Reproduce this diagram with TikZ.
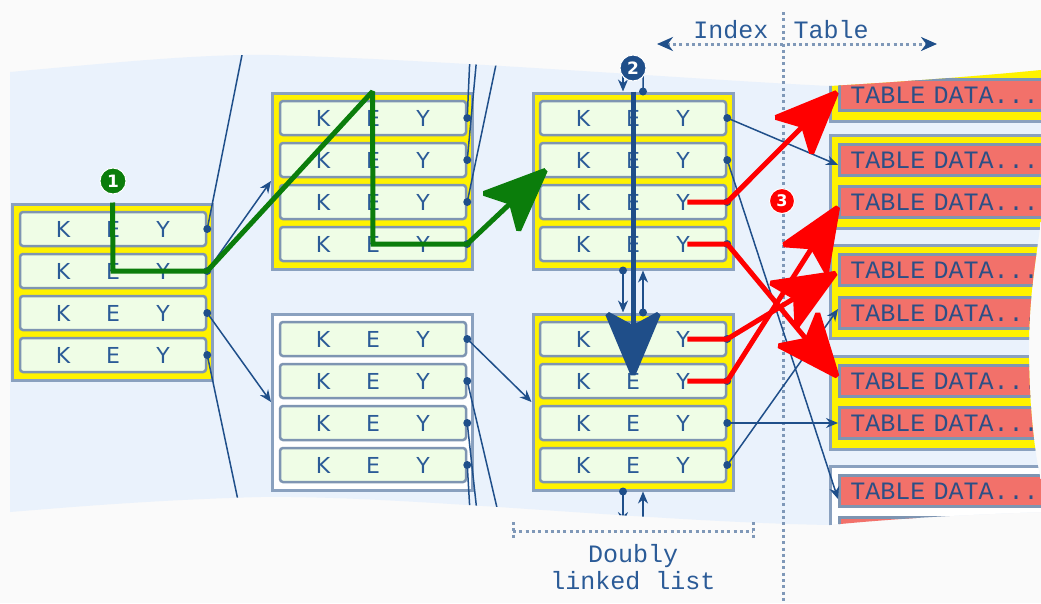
\documentclass[tikz,border=0pt]{standalone}
\usepackage{fontspec}
\usepackage{tikz}
\setmainfont{DejaVu Sans}
\newfontfamily\monofont{Liberation Mono}
\usetikzlibrary{arrows.meta}

\definecolor{paper}{HTML}{FAFAFA}
\definecolor{band}{HTML}{EAF2FC}
\definecolor{frame}{HTML}{8AA1BF}
\definecolor{keyline}{HTML}{7E95B2}
\definecolor{keybg}{HTML}{EFFDE6}
\definecolor{keyfg}{HTML}{2B5B97}
\definecolor{tblfg}{HTML}{2B4F86}
\definecolor{link}{HTML}{1F4F8A}
\definecolor{salmon}{HTML}{F2716A}
\definecolor{pathgreen}{HTML}{0B7D0B}
\definecolor{pathblue}{HTML}{1F4E89}
\definecolor{dotline}{HTML}{7F98B8}

\newcommand{\keytext}{\makebox[50pt]{K}\makebox[50pt]{E}\makebox[50pt]{Y}}
\newcommand{\bandpath}{(10,72) .. controls (120,62) and (200,54) .. (270,55)
  .. controls (450,60) and (700,80) .. (830,86)
  .. controls (900,82) and (980,76) .. (1041,70) -- (1041,220)
  .. controls (1036,260) and (1028,300) .. (1029,360)
  .. controls (1030,420) and (1036,460) .. (1041,480) -- (1041,512)
  .. controls (950,515) and (880,520) .. (830,525)
  .. controls (650,522) and (400,495) .. (260,497)
  .. controls (150,500) and (60,508) .. (10,512) -- cycle}

\begin{document}
\begin{tikzpicture}[x=1pt,y=-1pt]
        \tikzstyle{box}=[draw=frame,line width=3pt,fill=yellow,minimum width=200pt,minimum height=176pt,inner sep=0pt]
        \tikzstyle{leaf}=[box,fill=white]
        \tikzstyle{key}=[draw=keyline,line width=2.5pt,fill=keybg,rounded corners=3pt,minimum width=186pt,minimum height=34pt,inner sep=0pt,text=keyfg,font=\fontsize{22}{22}\selectfont]
        \tikzstyle{grp}=[draw=frame,line width=3pt,fill=yellow,minimum width=260pt,minimum height=93pt,anchor=north west,inner sep=0pt]
        \tikzstyle{row}=[draw=keyline,line width=2.5pt,fill=salmon,text width=248pt,minimum height=31pt,inner xsep=11pt,inner ysep=0pt,anchor=west,align=left,text=tblfg,font=\monofont\fontsize{25}{25}\selectfont]
        \tikzstyle{ptr}=[draw=link,line width=1.5pt,-{Stealth[length=12pt,width=10pt]}]
        \tikzstyle{wire}=[draw=link,line width=1.5pt]
        \tikzstyle{dotted line}=[draw=dotline,line width=3pt,dash pattern=on 3pt off 3.3pt]
        \tikzstyle{label}=[text=keyfg,font=\monofont\fontsize{25}{27}\selectfont]
        \tikzstyle{badge}=[circle,draw=white,line width=1pt,minimum size=26pt,inner sep=0pt,text=white,font=\bfseries\fontsize{17}{17}\selectfont]
        \tikzstyle{thick path}=[line width=5pt,miter limit=2]
        \tikzstyle{big head}=[-{Stealth[length=72pt,width=60pt,inset=16pt]}]

            \useasboundingbox (0,0) rectangle (1041,603);
            \fill[paper] (0,0) rectangle (1041,603);
            \fill[band] \bandpath;

            % index / table split
            \draw[dotted line] (783,12) -- (783,603);
            \node[label,anchor=east] (ix) at (772,30) {Index};
            \node[label,anchor=west] (tb) at (790,30) {Table};
            \coordinate (il) at (657,44);
            \coordinate (ir) at (937,44);
            \draw[dotted line,{Stealth[length=16pt,width=14pt,color=link]}-{Stealth[length=16pt,width=14pt,color=link]}] (il) -- (ir);

            \begin{scope}
            \clip \bandpath;

            % table side
            \node[grp] (g1) at (829,27) {};
            \node[grp] (g2) at (829,134) {};
            \node[grp] (g3) at (829,244) {};
            \node[grp] (g4) at (829,355) {};
            \node[grp,fill=white] (g5) at (829,465) {};
            \node[row] (t1) at (838,95) {TABLE DATA...};
            \node[row] (t2) at (838,160) {TABLE DATA...};
            \node[row] (t3) at (838,202) {TABLE DATA...};
            \node[row] (t4) at (838,270) {TABLE DATA...};
            \node[row] (t5) at (838,313) {TABLE DATA...};
            \node[row] (t6) at (838,381) {TABLE DATA...};
            \node[row] (t7) at (838,423) {TABLE DATA...};
            \node[row] (t8) at (838,491) {TABLE DATA...};
            \node[row] (t9) at (838,533) {TABLE DATA...};

            % index side
            \node[box] (r) at (112.5,292) {};
            \node[box] (a) at (372.5,181) {};
            \node[leaf] (b) at (372.5,402) {};
            \node[box] (c) at (633,181) {};
            \node[box] (d) at (633,402) {};

            \node[key] (r1) at (113,229) {\keytext};
            \node[key] (r2) at (113,271) {\keytext};
            \node[key] (r3) at (113,313) {\keytext};
            \node[key] (r4) at (113,355) {\keytext};
            \node[key] (a1) at (373,118) {\keytext};
            \node[key] (a2) at (373,160) {\keytext};
            \node[key] (a3) at (373,202) {\keytext};
            \node[key] (a4) at (373,244) {\keytext};
            \node[key] (b1) at (373,339) {\keytext};
            \node[key] (b2) at (373,381) {\keytext};
            \node[key] (b3) at (373,423) {\keytext};
            \node[key] (b4) at (373,465) {\keytext};
            \node[key] (c1) at (633,118) {\keytext};
            \node[key] (c2) at (633,160) {\keytext};
            \node[key] (c3) at (633,202) {\keytext};
            \node[key] (c4) at (633,244) {\keytext};
            \node[key] (d1) at (633,339) {\keytext};
            \node[key] (d2) at (633,381) {\keytext};
            \node[key] (d3) at (633,423) {\keytext};
            \node[key] (d4) at (633,465) {\keytext};

            % loose ends
            \coordinate (u1) at (243,50);
            \coordinate (u2) at (239,505);
            \coordinate (u3) at (470,55);
            \coordinate (u4) at (477,55);
            \coordinate (u5) at (498,55);
            \coordinate (u6) at (498,512);
            \coordinate (u7) at (477,512);
            \coordinate (u8) at (470,512);
            \coordinate (u9) at (623,40);
            \coordinate (u10) at (643,40);
            \coordinate (u11) at (623,524);
            \coordinate (u12) at (643,540);
            \coordinate (gt) at (550,166);
            \coordinate (rt) at (841,88);

            \draw[wire] (r1.east) -- (u1)
            (r4.east) -- (u2)
            (a1.east) -- (u3)
            (a2.east) -- (u4)
            (a3.east) -- (u5)
            (b2.east) -- (u6)
            (b3.east) -- (u7)
            (b4.east) -- (u8)
            ([xshift=10pt]c.north) -- (u10)
            ;
            \draw[ptr] (r2.east) -- (a.west);
            \draw[ptr] (r3.east) -- (b.west);
            \draw[ptr] (a4.east) -- (c.west);
            \draw[ptr] (b1.east) -- (d.west);
            \draw[ptr] (c1.east) -- ([yshift=-5pt]t2.west);
            \draw[ptr] (c2.east) -- ([yshift=-8pt]t8.west);
            \draw[ptr] (d3.east) -- (t7.west);
            \draw[ptr] (d4.east) -- ([yshift=4pt]t5.west);
            \draw[ptr] (u9) -- ([xshift=-10pt]c.north);
            \draw[ptr] ([xshift=-10pt]c.south) -- ([xshift=-10pt]d.north);
            \draw[ptr] ([xshift=10pt]d.north) -- ([xshift=10pt]c.south);
            \draw[ptr] ([xshift=-10pt]d.south) -- (u11);
            \draw[ptr] (u12) -- ([xshift=10pt]d.south);

            \foreach \n in {r1,r2,r3,r4,a1,a2,a3,a4,b1,b2,b3,b4,c1,c2,c3,c4,d1,d2,d3,d4}
              \fill[link] (\n.east) circle (4pt);
            \fill[link] ([xshift=10pt]c.north) circle (4pt);
            \fill[link] ([xshift=-10pt]c.south) circle (4pt);
            \fill[link] ([xshift=10pt]d.north) circle (4pt);
            \fill[link] ([xshift=-10pt]d.south) circle (4pt);

            % search paths
            \draw[thick path,pathgreen,big head] (r.north) -- (r2.center) -- (r2.east) -- (a.north) -- (a4.center) -- (a4.east) -- (gt);
            \draw[thick path,pathblue,big head] (c.north) -- (d2.center);
            \draw[thick path,red,big head] ([xshift=-40pt]c3.east) -- (c3.east) -- (rt);
            \draw[thick path,red,big head] ([xshift=-40pt]c4.east) -- (c4.east) -- ([xshift=3pt]t6.west);
            \draw[thick path,red,big head] ([xshift=-40pt]d1.east) -- (d1.east) -- ([xshift=3pt]t4.west);
            \draw[thick path,red,big head] ([xshift=-40pt]d2.east) -- (d2.east) -- ([xshift=3pt]t3.west);
            \end{scope}

            % leaf list bracket
            \draw[dotted line] (513,522) -- (513,540) (513,531) -- (753,531) (753,522) -- (753,540);
            \node[label,align=center] (dl) at (633,567) {Doubly\\linked list};

            \node[badge,fill=pathgreen] (n1) at (113,181) {1};
            \node[badge,fill=pathblue] (n2) at (633,68) {2};
            \node[badge,fill=red,minimum size=25pt,font=\bfseries\fontsize{16}{16}\selectfont] (n3) at (782,201) {3};
        \end{tikzpicture}
\end{document}
